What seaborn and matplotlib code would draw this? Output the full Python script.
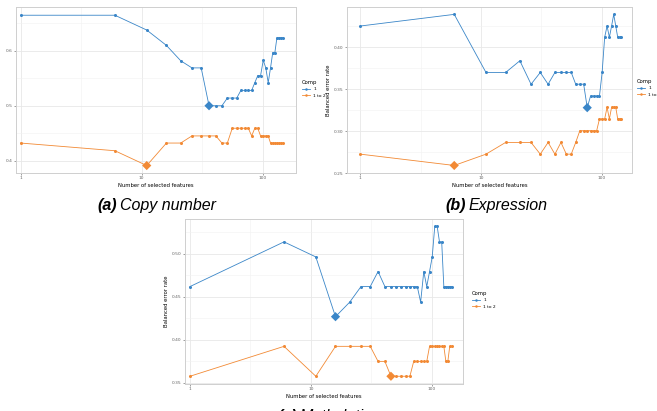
import numpy as np
import pandas as pd
import matplotlib
matplotlib.use('Agg')
import matplotlib.pyplot as plt
import seaborn as sns
from matplotlib.lines import Line2D
from matplotlib.ticker import FixedLocator, NullFormatter

# number of selected features tested (same grid for the 3 panels)
keepx = [1, 6, 11, 16, 21, 26, 31, 36, 41, 46, 51, 56, 61, 66, 71,
         76, 81, 86, 91, 96, 101, 106, 111, 116, 121, 126, 131, 136, 141, 146]

# (a) copy number
cn_comp1 = [0.665, 0.665, 0.638, 0.610, 0.582, 0.569, 0.569, 0.500, 0.500, 0.500,
            0.514, 0.514, 0.514, 0.528, 0.528, 0.528, 0.528, 0.542, 0.555, 0.555,
            0.583, 0.569, 0.542, 0.569, 0.597, 0.597, 0.624, 0.624, 0.624, 0.624]
cn_comp2 = [0.432, 0.418, 0.391, 0.432, 0.432, 0.445, 0.445, 0.445, 0.445, 0.432,
            0.432, 0.459, 0.459, 0.459, 0.459, 0.459, 0.445, 0.459, 0.459, 0.445,
            0.445, 0.445, 0.445, 0.432, 0.432, 0.432, 0.432, 0.432, 0.432, 0.432]
cn_best = [36, 11]

# (b) expression
ex_comp1 = [0.4255, 0.4394, 0.370, 0.370, 0.384, 0.356, 0.370, 0.356, 0.370, 0.370,
            0.370, 0.370, 0.356, 0.356, 0.356, 0.328, 0.342, 0.342, 0.342, 0.342,
            0.370, 0.412, 0.4255, 0.412, 0.4255, 0.4394, 0.4255, 0.412, 0.412, 0.412]
ex_comp2 = [0.2725, 0.259, 0.2725, 0.2865, 0.2865, 0.2865, 0.2725, 0.2865, 0.2725, 0.2865,
            0.2725, 0.2725, 0.2865, 0.3005, 0.3005, 0.3005, 0.3005, 0.3005, 0.3005, 0.3145,
            0.3145, 0.3145, 0.3285, 0.3145, 0.3285, 0.3285, 0.3285, 0.3145, 0.3145, 0.3145]
ex_best = [76, 6]

# (c) methylation
me_comp1 = [0.462, 0.514, 0.4965, 0.427, 0.444, 0.462, 0.462, 0.4795, 0.462, 0.462,
            0.462, 0.462, 0.462, 0.462, 0.462, 0.462, 0.444, 0.4795, 0.462, 0.4795,
            0.4965, 0.532, 0.532, 0.514, 0.514, 0.462, 0.462, 0.462, 0.462, 0.462]
me_comp2 = [0.3577, 0.3925, 0.3577, 0.3925, 0.3925, 0.3925, 0.3925, 0.375, 0.375, 0.3577,
            0.3577, 0.3577, 0.3577, 0.3577, 0.375, 0.375, 0.375, 0.375, 0.375, 0.3925,
            0.3925, 0.3925, 0.3925, 0.3925, 0.3925, 0.3925, 0.375, 0.375, 0.3925, 0.3925]
me_best = [16, 46]

comp_labels = ['1', '1 to 2']
palette = {'1': '#3a86c8', '1 to 2': '#f28a35'}

W, H = 657, 411
fig = plt.figure(figsize=(W / 100, H / 100), dpi=100)
fig.patch.set_facecolor('white')


def panel(box, comp1, comp2, best, xlim, ylim, yticks, ylabels, leg_xy, ylab=True):
    l, t, r, b = box
    ax = fig.add_axes([l / W, 1 - b / H, (r - l) / W, (b - t) / H])
    df = pd.DataFrame({'keepX': keepx * 2,
                       'BER': comp1 + comp2,
                       'Comp': [comp_labels[0]] * len(keepx) + [comp_labels[1]] * len(keepx)})
    sns.lineplot(data=df, x='keepX', y='BER', hue='Comp', palette=palette, ax=ax,
                 marker='o', markersize=2.2, markeredgewidth=0, linewidth=0.6,
                 legend=False, zorder=3)
    opt = pd.DataFrame({'keepX': best,
                        'BER': [comp1[keepx.index(best[0])], comp2[keepx.index(best[1])]],
                        'Comp': comp_labels})
    sns.scatterplot(data=opt, x='keepX', y='BER', hue='Comp', palette=palette, ax=ax,
                    marker='D', s=22, linewidth=0, legend=False, zorder=4)
    ax.set_xscale('log')
    ax.set_xlim(*xlim)
    ax.set_ylim(*ylim)
    ax.xaxis.set_major_locator(FixedLocator([1, 10, 100]))
    ax.set_xticklabels(['1', '10', '100'])
    ax.xaxis.set_minor_locator(FixedLocator([10 ** 0.5, 10 ** 1.5]))
    ax.xaxis.set_minor_formatter(NullFormatter())
    ax.yaxis.set_major_locator(FixedLocator(yticks))
    ax.set_yticklabels(ylabels)
    step = yticks[1] - yticks[0]
    ax.yaxis.set_minor_locator(FixedLocator([y + step / 2 for y in yticks[:-1]] + [yticks[-1] + step / 2, yticks[0] - step / 2]))
    ax.set_facecolor('white')
    ax.grid(which='major', color='#e8e8e8', linewidth=0.6, zorder=0)
    ax.grid(which='minor', color='#f2f2f2', linewidth=0.4, zorder=0)
    for s in ax.spines.values():
        s.set_color('#cfcfcf')
        s.set_linewidth(0.7)
    ax.tick_params(which='major', length=1.5, width=0.4, color='#555555',
                   labelsize=3.2, labelcolor='#666666', pad=1)
    ax.tick_params(which='minor', length=0)
    ax.set_xlabel('Number of selected features', fontsize=3.8, labelpad=1.5)
    if ylab:
        ax.set_ylabel('Balanced error rate', fontsize=3.8, labelpad=2)
    else:
        ax.set_ylabel('')
    handles = [Line2D([0], [0], color=palette[c], marker='o', markersize=1.8,
                      markeredgewidth=0, linewidth=0.6) for c in comp_labels]
    fig.legend(handles, comp_labels, title='Comp', loc='upper left',
               bbox_to_anchor=(leg_xy[0] / W, 1 - leg_xy[1] / H), frameon=False,
               fontsize=3.2, title_fontsize=3.8, handlelength=1.8, handletextpad=0.7,
               labelspacing=0.5, alignment='left', borderaxespad=0, borderpad=0)
    return ax


panel((16, 7, 296, 173), cn_comp1, cn_comp2, cn_best,
      (10 ** -0.039, 10 ** 2.275), (0.3774, 0.680),
      [0.4, 0.5, 0.6], ['0.4', '0.5', '0.6'], (302, 80), ylab=False)
panel((347, 7, 632, 173), ex_comp1, ex_comp2, ex_best,
      (10 ** -0.111, 10 ** 2.252), (0.250, 0.4482),
      [0.25, 0.30, 0.35, 0.40], ['0.25', '0.30', '0.35', '0.40'], (637, 79))
panel((185, 219, 463, 384), me_comp1, me_comp2, me_best,
      (10 ** -0.041, 10 ** 2.259), (0.3487, 0.5406),
      [0.35, 0.40, 0.45, 0.50], ['0.35', '0.40', '0.45', '0.50'], (472, 291))

# captions: bold italic tag followed by italic name
renderer = fig.canvas.get_renderer()


def caption(x, y, tag, name):
    t = fig.text(x / W, 1 - y / H, tag, fontsize=11.5, fontweight='bold', style='italic',
                 family='Liberation Sans', ha='left', va='baseline')
    bb = t.get_window_extent(renderer)
    fig.text((bb.x1 + 3) / W, 1 - y / H, name, fontsize=11.5, style='italic',
             family='Liberation Sans', ha='left', va='baseline')


caption(97, 210, '(a)', 'Copy number')
caption(445, 210, '(b)', 'Expression')
caption(277, 421, '(c)', 'Methylation')

fig.savefig('out.png', dpi=100)
